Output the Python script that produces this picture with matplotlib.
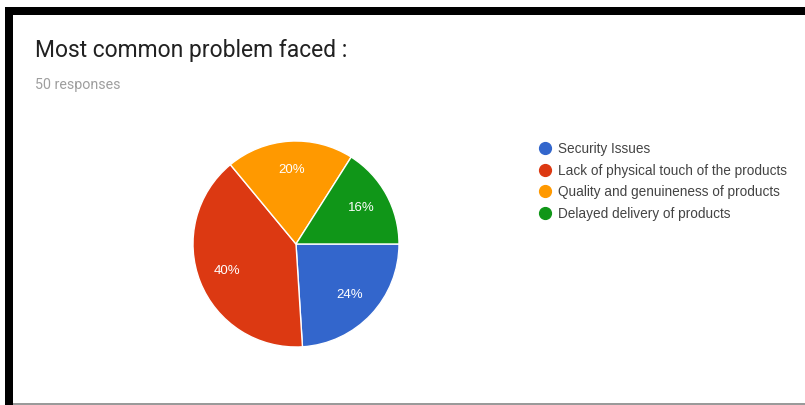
import matplotlib
matplotlib.use("Agg")
import matplotlib.pyplot as plt
from matplotlib.lines import Line2D
from matplotlib.patches import Rectangle

plt.rcParams['font.family'] = ['Roboto', 'DejaVu Sans']

title = 'Most common problem faced :'
subtitle = '50 responses'
labels = ['Security Issues', 'Lack of physical touch of the products',
          'Quality and genuineness of products', 'Delayed delivery of products']
shares = [24, 40, 20, 16]
colors = ['#3366cc', '#dc3912', '#ff9900', '#109618']

W, H = 805, 405
fig = plt.figure(figsize=(W / 100, H / 100), dpi=100)
fig.patch.set_facecolor('white')

# frame from the screenshot
fig.add_artist(Rectangle((5 / W, 1 - 15 / H), 800 / W, 8 / H, transform=fig.transFigure,
                         facecolor='black', edgecolor='none'))
fig.add_artist(Rectangle((5 / W, 0), 8 / W, 1 - 7 / H, transform=fig.transFigure,
                         facecolor='black', edgecolor='none'))
fig.add_artist(Rectangle((13 / W, 0), 792 / W, 2 / H, transform=fig.transFigure,
                         facecolor='#9a9a9a', edgecolor='none'))

fig.text(35 / W, 1 - 50 / H, title, fontsize=16.5, color='#212121', va='center', ha='left')
fig.text(35 / W, 1 - 85 / H, subtitle, fontsize=10.3, color='#9e9e9e', va='center', ha='left')

# pie, centre (296, 244) px, radius 103 px
cx, cy, r = 296, 244, 103
ax = fig.add_axes([(cx - r) / W, (H - cy - r) / H, 2 * r / W, 2 * r / H])
wedges, _, autotexts = ax.pie(shares, colors=colors, startangle=0, counterclock=False,
                              autopct='%d%%', pctdistance=0.72,
                              wedgeprops=dict(edgecolor='white', linewidth=1),
                              textprops=dict(color='white', fontsize=9.5,
                                             family=['Liberation Sans']))
ax.set_xlim(-1, 1)
ax.set_ylim(-1, 1)
ax.set_aspect('equal')
ax.axis('off')

handles = [Line2D([], [], marker='o', linestyle='none', markersize=8.5,
                  markerfacecolor=c, markeredgecolor=c) for c in colors]
fig.legend(handles, labels, loc='upper left', bbox_to_anchor=(538 / W, 1 - 142 / H),
           frameon=False, prop=dict(family='Liberation Sans', size=9.8),
           labelcolor='#444444', handlelength=1.0, handletextpad=0.45,
           labelspacing=0.56, borderaxespad=0, borderpad=0)

fig.savefig('out.png', dpi=100, facecolor='white')
